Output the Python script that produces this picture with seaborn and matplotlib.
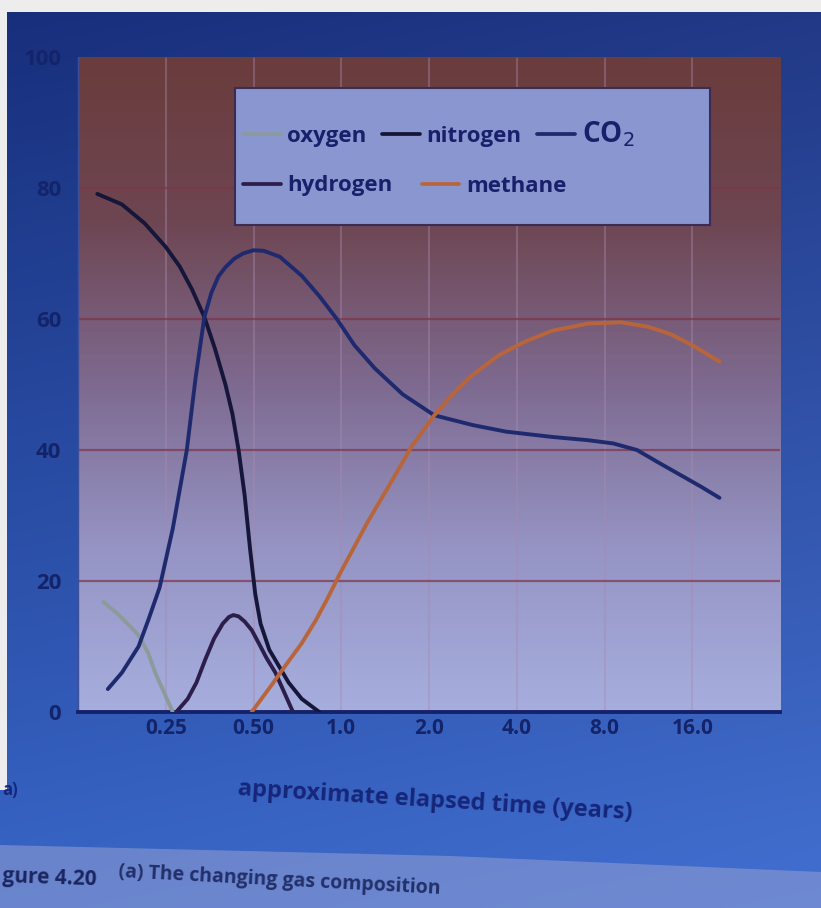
import numpy as np
import pandas as pd
import matplotlib
matplotlib.use('Agg')
import matplotlib.pyplot as plt
import seaborn as sns
from matplotlib.colors import LinearSegmentedColormap
from matplotlib.lines import Line2D
from matplotlib.patches import Polygon, Rectangle

# x축: 0..8 위치에 로그 간격 눈금 (라벨만 표시)
tick_pos = [1, 2, 3, 4, 5, 6, 7]
tick_labels = ['0.25', '0.50', '1.0', '2.0', '4.0', '8.0', '16.0']
y_ticks = [0, 20, 40, 60, 80, 100]

# 그림에서 읽은 값 (%)
oxygen_x = [0.29, 0.45, 0.60, 0.69, 0.80, 0.88, 0.98, 1.08]
oxygen_y = [16.8, 15.0, 13.0, 11.7, 9.0, 6.0, 3.0, 0.0]

nitrogen_x = [0.22, 0.50, 0.76, 1.00, 1.16, 1.30, 1.44, 1.56, 1.68, 1.76, 1.83,
              1.90, 1.96, 2.02, 2.08, 2.18, 2.29, 2.40, 2.55, 2.75]
nitrogen_y = [79.1, 77.5, 74.6, 71.0, 68.0, 64.5, 60.3, 55.5, 50.0, 45.5, 40.0,
              33.0, 25.0, 18.0, 13.5, 9.5, 7.0, 4.5, 2.0, 0.0]

co2_x = [0.34, 0.50, 0.69, 0.80, 0.93, 1.08, 1.24, 1.34, 1.44, 1.52, 1.60, 1.68,
         1.78, 1.88, 2.00, 2.12, 2.30, 2.55, 2.75, 2.95, 3.15, 3.38, 3.70, 4.06,
         4.50, 4.88, 5.40, 5.81, 6.10, 6.37, 6.60, 6.85, 7.10, 7.31]
co2_y = [3.5, 6.0, 10.0, 14.0, 19.0, 28.0, 40.0, 51.0, 60.3, 64.0, 66.5, 67.9,
         69.2, 70.0, 70.5, 70.4, 69.5, 66.6, 63.5, 60.0, 56.0, 52.5, 48.5, 45.3,
         43.8, 42.8, 42.0, 41.5, 41.0, 40.0, 38.2, 36.3, 34.4, 32.7]

hydrogen_x = [1.12, 1.25, 1.35, 1.45, 1.55, 1.65, 1.72, 1.77, 1.83, 1.90, 1.98,
              2.06, 2.15, 2.25, 2.35, 2.45]
hydrogen_y = [0.0, 2.0, 4.5, 8.0, 11.2, 13.5, 14.5, 14.8, 14.6, 13.8, 12.5,
              10.5, 8.2, 6.0, 3.0, 0.0]

methane_x = [1.98, 2.20, 2.37, 2.55, 2.71, 2.85, 2.98, 3.08, 3.30, 3.56, 3.80,
             4.06, 4.30, 4.51, 4.80, 5.07, 5.40, 5.81, 6.19, 6.50, 6.75, 7.00, 7.31]
methane_y = [0.0, 4.0, 7.2, 10.5, 14.0, 17.5, 21.0, 23.5, 29.0, 34.9, 40.5,
             45.3, 49.0, 51.6, 54.5, 56.4, 58.2, 59.3, 59.5, 58.8, 57.7, 56.0, 53.5]

gas_colors = {
    'oxygen': '#8d9a9c',
    'nitrogen': '#15163a',
    'CO$_2$': '#1f2a6e',
    'hydrogen': '#2c1d4a',
    'methane': '#b8653c',
}

series = [('oxygen', oxygen_x, oxygen_y), ('nitrogen', nitrogen_x, nitrogen_y),
          ('CO$_2$', co2_x, co2_y), ('hydrogen', hydrogen_x, hydrogen_y),
          ('methane', methane_x, methane_y)]
df = pd.concat([pd.DataFrame({'time': x, 'pct': y, 'gas': g}) for g, x, y in series],
               ignore_index=True)

sns.set_theme(style='white')
plt.rcParams['font.family'] = ['Open Sans', 'DejaVu Sans']

W, H = 821, 908
fig = plt.figure(figsize=(W / 100, H / 100), dpi=100)

# 사진 배경 (파란 페이지)
bg = fig.add_axes([0, 0, 1, 1], zorder=-10)
bg.set_axis_off()
yy = np.linspace(0, 1, H)[:, None, None]
xx = np.linspace(0, 1, W)[None, :, None]
top_c = np.array([0.09, 0.18, 0.48])
bot_c = np.array([0.22, 0.40, 0.78])
img = top_c * (1 - yy) + bot_c * yy + 0.04 * xx
img = np.clip(img, 0, 1)
img[:12, :, :] = 0.93
img[:790, :7, :] = 0.93
bg.imshow(img, extent=[0, W, H, 0], aspect='auto')
bg.set_xlim(0, W)
bg.set_ylim(H, 0)
bg.add_patch(Polygon([[0, 845], [450, 856], [821, 872], [821, 908], [0, 908]],
                     closed=True, color='#8c9bd2', alpha=0.6, lw=0))

# 플롯 영역
ax = fig.add_axes([78 / W, 1 - 712 / H, 702 / W, 655 / H])
cmap = LinearSegmentedColormap.from_list(
    'photo', ['#a6aedd', '#9594c4', '#7e6a90', '#6e4652', '#6a3c3c'])
grad = np.linspace(0, 1, 200)[:, None]
ax.imshow(grad, extent=[0, 8, 0, 100], origin='lower', aspect='auto',
          cmap=cmap, zorder=0)

sns.lineplot(data=df, x='time', y='pct', hue='gas', palette=gas_colors,
             linewidth=2.8, ax=ax, legend=False, zorder=3)

ax.set_xlim(0, 8)
ax.set_ylim(0, 100)
ax.set_xticks(tick_pos)
ax.set_xticklabels(tick_labels)
ax.set_yticks(y_ticks)
ax.set_axisbelow(True)
ax.grid(axis='x', color='#a88aae', lw=1.5, alpha=0.4)
ax.grid(axis='y', color='#7c3448', lw=1.6, alpha=0.7)
ax.tick_params(axis='both', length=0, labelcolor='#14246a')
ax.tick_params(axis='y', pad=12, labelsize=16)
ax.tick_params(axis='x', pad=4, labelsize=15)
for lab in ax.get_xticklabels() + ax.get_yticklabels():
    lab.set_fontweight('bold')
for s in ['top', 'right']:
    ax.spines[s].set_visible(False)
ax.spines['left'].set_color('#3d4f9a')
ax.spines['left'].set_linewidth(1.0)
ax.spines['bottom'].set_color('#15226a')
ax.spines['bottom'].set_linewidth(2.8)
ax.set_xlabel('')
ax.set_ylabel('')

# 범례 (두 줄, 열 정렬 없음)
box = Rectangle((235 / W, 1 - 225 / H), 475 / W, 137 / H, transform=fig.transFigure,
                facecolor='#8a96cf', edgecolor='#3a2c55', lw=1.5, zorder=4,
                clip_on=False)
ax.add_patch(box)

def legend_row(names, y_px, spacing):
    hs = [Line2D([0], [0], color=gas_colors[g], lw=2.7) for g in names]
    lg = ax.legend(hs, names, ncol=len(names), loc='center left',
                   bbox_to_anchor=(243 / W, 1 - y_px / H), bbox_transform=fig.transFigure,
                   frameon=False, handlelength=1.7, handletextpad=0.3,
                   columnspacing=spacing, borderpad=0, borderaxespad=0,
                   prop={'size': 16, 'weight': 'bold'})
    lg.set_zorder(5)
    for t in lg.get_texts():
        t.set_color('#17206a')
    return lg

row1 = legend_row(['oxygen', 'nitrogen', 'CO$_2$'], 134, 0.7)
row1.get_texts()[-1].set_fontsize(20)
ax.add_artist(row1)
legend_row(['hydrogen', 'methane'], 186, 1.3)

# 축 제목과 캡션 (기울어진 사진)
fig.text(435 / W, 1 - 801 / H, 'approximate elapsed time (years)', ha='center',
         va='center', rotation=-3.5, fontsize=17, color='#16267a', fontweight='bold')
fig.text(2 / W, 1 - 790 / H, 'a)', ha='left', va='center', fontsize=12,
         color='#16267a', fontweight='bold')
fig.text(2 / W, 1 - 878 / H, 'gure 4.20', ha='left', va='center', rotation=-2,
         fontsize=15, color='#1a2660', fontweight='bold')
fig.text(118 / W, 1 - 880 / H, '(a) The changing gas composition', ha='left',
         va='center', rotation=-3, fontsize=14, color='#1a2660', fontweight='bold',
         alpha=0.9)

fig.savefig('out.png', dpi=100)
